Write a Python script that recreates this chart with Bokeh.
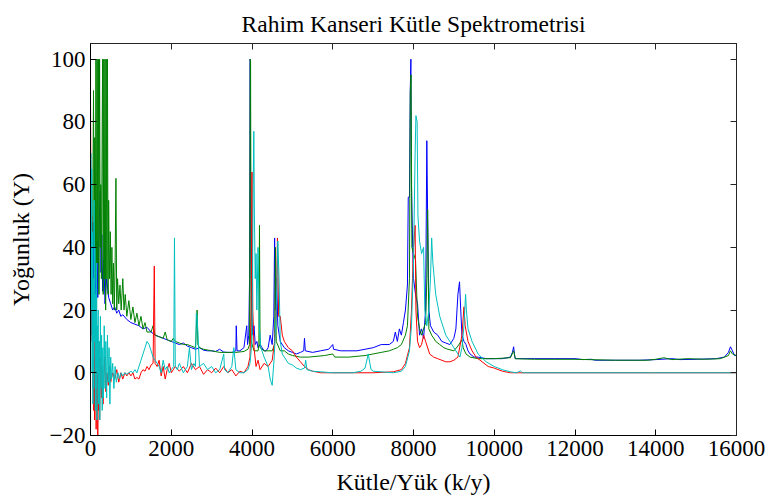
from bokeh.plotting import figure
from bokeh.models import Range1d, LinearAxis, FixedTicker
from bokeh.embed import file_html
from bokeh.resources import INLINE

# ---------------- data ----------------
mz_blue = [0, 20, 40, 60, 80, 100, 120, 140, 160, 180, 200, 220, 240, 260, 280, 300, 330, 360, 400, 450,
           500, 550, 600, 650, 700, 750, 800, 900, 1000, 1100, 1200, 1300, 1400, 1500, 1600, 1700, 1800,
           1900, 2000, 2100, 2200, 2300, 2400, 2500, 2600, 2700, 2800, 2900, 3000, 3100, 3200, 3300, 3400,
           3500, 3600, 3610, 3630, 3700, 3800, 3870, 3890, 3920, 3940, 3955, 3970, 3990, 4020, 4050, 4080,
           4120, 4150, 4200, 4250, 4300, 4350, 4400, 4450, 4500, 4540, 4560, 4580, 4610, 4640, 4700, 4800,
           4900, 5000, 5100, 5200, 5280, 5300, 5320, 5500, 5700, 5900, 6000, 6020, 6200, 6400, 6600, 6800,
           7000, 7200, 7400, 7500, 7550, 7600, 7650, 7700, 7750, 7800, 7850, 7870, 7900, 7920, 7935, 7950,
           7980, 8000, 8050, 8100, 8150, 8200, 8250, 8300, 8330, 8350, 8380, 8420, 8500, 8600, 8700, 8800,
           8900, 9000, 9050, 9100, 9140, 9170, 9200, 9250, 9300, 9350, 9400, 9500, 9600, 9800, 10000, 10200,
           10400, 10450, 10480, 10500, 10520, 10800, 11000, 11500, 12000, 12200, 12400, 12500, 13000, 13600,
           14000, 14400, 14600, 15000, 15500, 15700, 15800, 15850, 15900, 15950, 16000]
int_blue = [22, 40, 12, 48, 28, 52, 30, 18, 42, 24, 38, 50, 58, 32, 44, 26, 36, 22, 30, 24,
            22, 20, 21, 19, 20, 18, 18.5, 17, 16, 15.5, 15, 14, 14.5, 13, 12, 11.5, 11,
            10.5, 10, 9.5, 9, 9.5, 8.5, 8, 7.5, 8, 7.2, 7, 7, 6.8, 7.5, 6.6, 6.5,
            6.5, 7, 15, 7, 7, 8, 15, 9, 12, 30, 100, 40, 20, 12, 15, 9,
            10, 8, 9, 8, 7, 7, 8, 12, 9, 18, 43, 20, 30, 15, 10, 8,
            7, 6.5, 6, 6.5, 7, 11, 7, 6.5, 7, 7.5, 9, 7.5, 7, 7, 7, 7.5,
            8, 9, 9, 10, 13, 10, 14, 12, 16, 20, 28, 56, 56, 90, 100, 60,
            40, 30, 25, 22, 12, 14, 11, 20, 74, 50, 20, 15, 13, 12, 10, 9.5,
            9, 11, 14, 25, 29, 20, 12, 10, 9, 7, 6, 5, 5, 4.5, 4.5, 4.5,
            5, 6.5, 8.3, 6, 4.5, 4.5, 4.5, 4.5, 4.5, 4.2, 4.3, 4, 4, 4,
            4.2, 4.5, 4.2, 4.3, 4.5, 5, 6.5, 8.3, 7, 5.5, 5.5]

mz_green = [0, 15, 30, 45, 60, 75, 90, 105, 120, 135, 150, 165, 180, 195, 210, 225, 240, 255, 270, 290,
            300, 315, 330, 345, 360, 375, 390, 405, 420, 435, 450, 470, 490, 510, 530, 550, 570, 590, 610,
            630, 650, 670, 700, 730, 760, 800, 830, 860, 900, 950, 1000, 1050, 1100, 1150, 1200, 1250, 1300,
            1350, 1400, 1500, 1550, 1600, 1700, 1800, 1850, 1900, 2000, 2050, 2100, 2200, 2300, 2400, 2500,
            2600, 2640, 2660, 2700, 2800, 3000, 3200, 3400, 3600, 3800, 3900, 3940, 3955, 3965, 3980, 4050,
            4100, 4150, 4170, 4185, 4200, 4300, 4400, 4500, 4560, 4580, 4600, 4700, 4800, 4900, 5000, 5200,
            5400, 5800, 6000, 6050, 6400, 6800, 7000, 7200, 7400, 7500, 7600, 7700, 7800, 7850, 7900, 7920,
            7940, 7960, 8000, 8050, 8100, 8150, 8200, 8300, 8330, 8350, 8380, 8450, 8550, 8650, 8750, 8850,
            9000, 9100, 9200, 9230, 9300, 9400, 9600, 10000, 10400, 10480, 10520, 11000, 12000, 13000, 13800,
            14000, 14200, 14400, 14800, 15200, 15600, 15800, 15850, 15900, 16000]
int_green = [10, 30, 45, 20, 60, 90, 40, 75, 30, 100, 20, 100, 35, 100, 25, 100, 40, 60, 30, 80,
             100, 25, 100, 30, 100, 20, 100, 30, 100, 25, 55, 30, 45, 25, 40, 22, 35, 20, 35,
             62, 20, 30, 22, 28, 20, 30, 20, 25, 18, 23, 17, 21, 16, 19, 15, 18, 14,
             16, 13, 13, 15, 12, 11.5, 11, 13, 10.5, 10, 11, 10, 9.5, 9, 9, 8.5,
             8, 20, 9, 8, 7.5, 7, 6.5, 6.5, 6.5, 6.8, 7.5, 9, 100, 99, 10, 7,
             7, 7, 9, 47, 8, 7, 7, 7, 9, 40, 10, 7, 7, 6, 5.5, 5,
             5, 5.5, 6, 5, 5, 5.5, 6, 6.5, 7, 7.5, 8, 9, 12, 15, 30, 90,
             95, 40, 38, 36, 18, 14, 12, 16, 30, 52, 14, 12, 10, 9, 8, 7.5,
             7, 8.5, 10.5, 8, 6, 5, 4.5, 4.5, 4.8, 7, 4.5, 4.3, 4.3, 4, 4,
             4.3, 4.8, 4.2, 4.5, 4.3, 4.5, 5.5, 7, 6, 5.5]

mz_red = [0, 10, 20, 30, 40, 50, 60, 70, 80, 90, 100, 110, 120, 130, 140, 150, 160, 170, 180, 190,
          200, 210, 225, 240, 255, 270, 290, 310, 330, 350, 380, 410, 440, 470, 500, 550, 600, 650, 700,
          750, 800, 850, 900, 950, 1000, 1050, 1100, 1150, 1200, 1250, 1300, 1350, 1400, 1450, 1500, 1550,
          1580, 1600, 1650, 1700, 1750, 1800, 1850, 1900, 1950, 2000, 2100, 2200, 2300, 2400, 2500, 2600,
          2700, 2800, 2900, 3000, 3100, 3200, 3300, 3400, 3500, 3600, 3700, 3800, 3900, 3950, 3980, 4000,
          4020, 4050, 4100, 4150, 4200, 4300, 4400, 4500, 4560, 4600, 4630, 4660, 4700, 4750, 4800, 4900,
          5000, 5100, 5200, 5300, 5400, 5500, 5700, 6000, 6500, 7000, 7500, 7700, 7800, 7900, 7950, 8000,
          8040, 8060, 8100, 8150, 8200, 8250, 8300, 8400, 8500, 8600, 8700, 8800, 8900, 9000, 9100, 9200,
          9250, 9280, 9350, 9450, 9550, 9700, 9850, 10000, 10200, 10400, 10600, 12000, 14000, 16000]
int_red = [88, 60, 30, 50, 10, 35, -5, 20, -12, 10, -15, 5, -8, 15, -18, 0, -10, 8, -20, -5,
           -12, 10, -15, -3, 5, -8, 2, -10, -2, 5, -6, 0, -4, 2, -3, 0, -2, 1, -3,
           0, -2, 0, -1, 0, -1, 0, -2, -1.5, -2, 0, 1, 0.5, 2, 1, 2.5, 3,
           34, 3, 2, 4, -1, 2, -2, 1, 3, 0, 2, 0.5, 2, 0, 3, 1,
           2, -0.5, 1, 0, 1.5, 0, 2, 0, 1, -1, 0.5, 0, 2, 5, 20, 64,
           20, 8, 2, 4, 1, 3, 2, 4, 10, 20, 43, 18, 18, 12, 10, 8,
           7, 5, 3.5, 2, 1, 0.5, 0, 0, 0, 0, 0.3, 1, 3, 8, 20, 40,
           47, 20, 10, 8, 9, 12, 10, 6, 5, 4.5, 4, 3.5, 3.5, 4, 5, 12,
           21, 15, 10, 7, 5, 3.5, 2, 1.5, 0.5, 0, 0, 0, 0, 0]

mz_cyan = [0, 10, 20, 30, 40, 50, 60, 70, 80, 90, 100, 110, 120, 130, 140, 150, 160, 170, 180, 190,
           200, 215, 230, 245, 260, 275, 290, 305, 320, 340, 360, 380, 400, 420, 440, 460, 480, 500, 520,
           550, 580, 610, 640, 680, 720, 760, 800, 850, 900, 950, 1000, 1050, 1100, 1150, 1200, 1250, 1300,
           1350, 1400, 1450, 1500, 1550, 1600, 1650, 1700, 1750, 1800, 1850, 1900, 1950, 2000, 2060, 2080,
           2100, 2150, 2200, 2300, 2400, 2450, 2500, 2560, 2600, 2620, 2640, 2700, 2800, 2900, 3000, 3100,
           3200, 3300, 3320, 3400, 3500, 3550, 3600, 3700, 3800, 3900, 3950, 4000, 4030, 4045, 4060, 4080,
           4100, 4120, 4150, 4180, 4220, 4300, 4400, 4450, 4500, 4550, 4600, 4640, 4670, 4700, 4750, 4800,
           4900, 5000, 5100, 5200, 5300, 5330, 5360, 5500, 6000, 6500, 6700, 6800, 6880, 6920, 6950, 7000,
           7500, 7700, 7800, 7900, 7950, 8000, 8040, 8060, 8090, 8110, 8150, 8200, 8250, 8280, 8330, 8380,
           8420, 8450, 8480, 8550, 8650, 8800, 8950, 9050, 9150, 9200, 9250, 9290, 9310, 9350, 9450, 9600,
           9800, 10000, 10200, 10400, 10550, 10650, 10700, 12000, 14000, 16000]
int_cyan = [50, 70, 20, 65, 0, 45, -10, 30, -5, 55, 10, 40, -12, 25, -5, 35, -15, 15, 0, 20,
            -10, 10, -15, 18, -5, 12, -12, 8, -8, 15, -5, 10, -8, 12, -3, 8, -10, 5, -2,
            3, -5, 2, -3, 0, -2, 0, -1, 0, -0.5, 0, 0.5, 0, 1, 0, 2, 4, 6,
            8, 10, 9, 7, 5, 4, 3, 2, 0, 4, 1, 2, 0, 1, 2, 43,
            2, 1, 3, 0, 2, 8, 1, 3, 2, 19, 18, 2, 3, 1, 2, 0,
            1, 6, 1, 0, 2, 8, 1, 0, 0, 1, 3, 10, 60, 77, 50, 30,
            38, 20, 40, 15, 8, 5, 2, -2, -4, 5, 20, 42, 30, 10, 6, 5,
            3, 2.5, 1.5, 1, 1.5, 4, 1, 0.5, 0, 0, 0.5, 1.5, 6, 3, 1, 0.5,
            0, 0.5, 2, 7, 15, 35, 70, 82, 80, 50, 42, 38, 40, 20, 15, 20,
            30, 43, 35, 25, 18, 12, 9, 7, 5, 8, 15, 25, 20, 14, 10, 6,
            3.5, 2, 1, 0.3, 0, 0.6, 0, 0, 0, 0]

x_ticks = [0, 2000, 4000, 6000, 8000, 10000, 12000, 14000, 16000]
y_ticks = [-20, 0, 20, 40, 60, 80, 100]

title_text = "Rahim Kanseri Kütle Spektrometrisi"
x_label = "Kütle/Yük (k/y)"
y_label = "Yoğunluk (Y)"

FONT = "Liberation Serif"

# ---------------- figure ----------------
p = figure(width=768, height=502, output_backend="svg", toolbar_location=None,
           x_range=Range1d(0, 16000), y_range=Range1d(-20, 105),
           min_border_left=90, min_border_right=32, min_border_top=43, min_border_bottom=67)

p.title.text = title_text
p.title.text_font = FONT
p.title.text_font_size = "23.5px"
p.title.text_font_style = "normal"
p.title.align = "center"
p.title.vertical_align = "top"
p.title.text_color = "black"
p.title.standoff = 10
p.title.padding = 0

p.background_fill_color = "white"
p.border_fill_color = "white"
p.outline_line_color = "#262626"
p.outline_line_width = 1
p.grid.visible = False

for ax, ticks in ((p.xaxis[0], x_ticks), (p.yaxis[0], y_ticks)):
    ax.ticker = FixedTicker(ticks=ticks)
    ax.major_tick_in = 6
    ax.major_tick_out = 0
    ax.minor_tick_line_color = None
    ax.major_label_text_font = FONT
    ax.major_label_text_font_size = "23px"
    ax.major_label_text_color = "black"
    ax.axis_label_text_font = FONT
    ax.axis_label_text_font_size = "24px"
    ax.axis_label_text_font_style = "normal"
    ax.axis_label_text_color = "black"
    ax.axis_line_color = "black"
    ax.major_tick_line_color = "black"

p.xaxis.axis_label = x_label
p.yaxis.axis_label = y_label
p.xaxis.major_label_standoff = 5
p.yaxis.major_label_standoff = 5
p.xaxis.axis_label_standoff = 10
p.yaxis.axis_label_standoff = 13

top_ax = LinearAxis(ticker=FixedTicker(ticks=x_ticks), major_tick_in=6, major_tick_out=0,
                    minor_tick_line_color=None, major_label_text_font_size="0px",
                    major_label_text_color=None, axis_line_color="#262626",
                    major_tick_line_color="#262626")
right_ax = LinearAxis(ticker=FixedTicker(ticks=y_ticks), major_tick_in=6, major_tick_out=0,
                      minor_tick_line_color=None, major_label_text_font_size="0px",
                      major_label_text_color=None, axis_line_color="#262626",
                      major_tick_line_color="#262626")
p.add_layout(top_ax, "above")
p.add_layout(right_ax, "right")

p.line(mz_blue, int_blue, line_color="#0000FF", line_width=1)
p.line(mz_green, int_green, line_color="#008000", line_width=1)
p.line(mz_red, int_red, line_color="#FF0000", line_width=1)
p.line(mz_cyan, int_cyan, line_color="#00BFBF", line_width=1)

open("out.html", "w").write(file_html(p, INLINE))
